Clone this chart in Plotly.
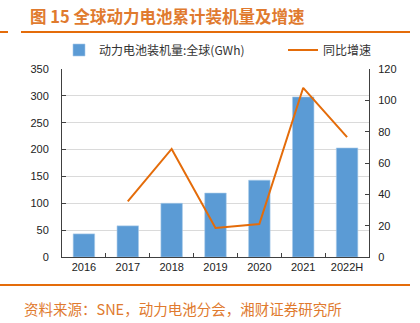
import plotly.graph_objects as go

years = ["2016", "2017", "2018", "2019", "2020", "2021", "2022H"]
installed_gwh = [43, 58, 100, 119, 143, 298, 203]
growth_years = ["2017", "2018", "2019", "2020", "2021", "2022H"]
growth_pct = [35.5, 69, 18.5, 21, 108, 76.5]

ORANGE = "#E46C0A"
TITLE_OR = "#E07A2E"
BLUE = "#5B9BD5"
FONT = "Liberation Sans, Arial, sans-serif"
CJK = "Noto Sans CJK SC"

fig = go.Figure()
fig.add_trace(go.Bar(x=years, y=installed_gwh, name="动力电池装机量:全球(GWh)",
                     marker=dict(color=BLUE, line=dict(color="#A9CBEA", width=0.6)),
                     width=0.49, yaxis="y", legend="legend"))
fig.add_trace(go.Scatter(x=growth_years, y=growth_pct, name="同比增速", mode="lines",
                         line=dict(color=ORANGE, width=2), yaxis="y2", legend="legend2"))

W, H = 420, 323
L, R, T, B = 62, 51, 69, 66
ph = H - T - B
pw = W - L - R

def px_x(x):
    return (x - L) / pw

def px_y(y):
    return (H - B - y) / ph

leg_common = dict(orientation="h", xanchor="left", yanchor="middle", y=px_y(50),
                  font=dict(family=CJK, size=12, color="#333333"),
                  itemwidth=30, bgcolor="rgba(0,0,0,0)")

fig.update_layout(
    width=W, height=H,
    margin=dict(l=L, r=R, t=T, b=B),
    paper_bgcolor="white", plot_bgcolor="white",
    font=dict(family=FONT, size=11, color="#222222"),
    showlegend=True,
    legend=dict(x=px_x(59), **leg_common),
    legend2=dict(x=px_x(283), **leg_common),
    xaxis=dict(type="category", showline=True, linecolor="#404040", linewidth=1,
               ticks="inside", tickson="boundaries", ticklen=4, tickcolor="#404040",
               showgrid=False, tickfont=dict(family=FONT, size=11, color="#222222")),
    yaxis=dict(range=[0, 350], dtick=50, showline=True, linecolor="#404040", linewidth=1,
               ticks="inside", ticklen=4, tickcolor="#404040",
               showgrid=True, gridcolor="#DADADA", gridwidth=1, zeroline=False,
               ticklabelstandoff=10,
               tickfont=dict(family=FONT, size=11, color="#222222")),
    yaxis2=dict(range=[0, 120], dtick=20, overlaying="y", side="right", showline=True,
                linecolor="#404040", linewidth=1, ticks="inside", ticklen=4,
                tickcolor="#404040", showgrid=False, zeroline=False,
                ticklabelstandoff=6,
                tickfont=dict(family=FONT, size=11, color="#222222")),
)

# Title
fig.add_annotation(text="<b>图 15 全球动力电池累计装机量及增速</b>", xref="paper", yref="paper",
                   x=px_x(28), y=px_y(16), xanchor="left", yanchor="middle", showarrow=False,
                   font=dict(family=CJK, size=16.5, color=TITLE_OR))
# Source
fig.add_annotation(text="资料来源：SNE，动力电池分会，湘财证券研究所", xref="paper", yref="paper",
                   x=px_x(22), y=px_y(308), xanchor="left", yanchor="middle", showarrow=False,
                   font=dict(family=CJK, size=14.5, color=TITLE_OR))
# Rules
for x0, x1, y in [(0, 8, 32), (21, 410, 32), (0, 410, 285)]:
    fig.add_shape(type="line", xref="paper", yref="paper", x0=px_x(x0), x1=px_x(x1),
                  y0=px_y(y), y1=px_y(y), line=dict(color=ORANGE, width=2))

fig.write_html("out.html")
